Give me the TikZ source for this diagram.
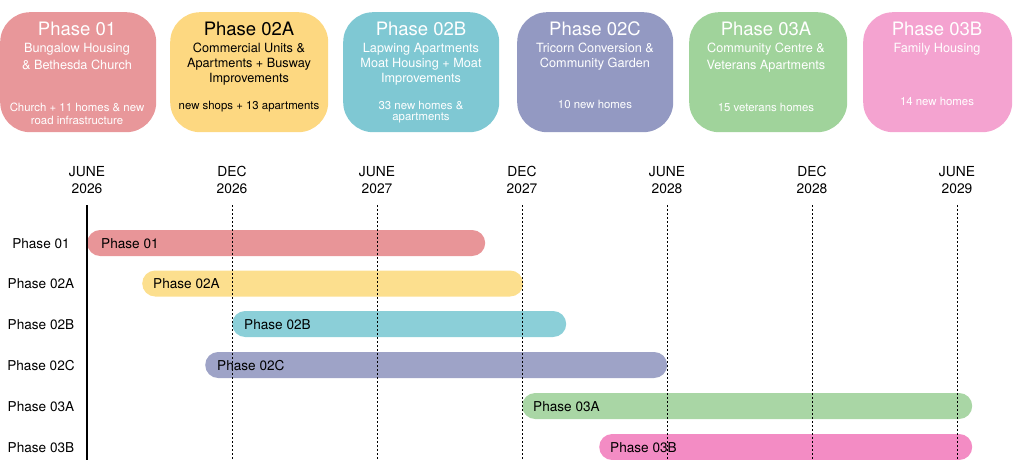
\documentclass[tikz,border=0pt]{standalone}
\usepackage{fontspec}
\setmainfont{TeX Gyre Heros}
\definecolor{cA}{HTML}{E8979A}
\definecolor{bA}{HTML}{E89598}
\definecolor{cB}{HTML}{FDD881}
\definecolor{bB}{HTML}{FCDF8E}
\definecolor{cC}{HTML}{7FC8D3}
\definecolor{bC}{HTML}{8BCFD8}
\definecolor{cD}{HTML}{9399C2}
\definecolor{bD}{HTML}{9EA3C7}
\definecolor{cE}{HTML}{A0D39B}
\definecolor{bE}{HTML}{A9D6A5}
\definecolor{cF}{HTML}{F4A3D0}
\definecolor{bF}{HTML}{F38CC4}
\tikzset{
  card/.style={rounded corners=30pt, minimum width=156pt, minimum height=120pt, inner sep=0pt, anchor=north west},
  ctitle/.style={anchor=base, inner sep=0pt, font=\fontsize{18.5}{20}\selectfont},
  csub/.style={anchor=base, inner sep=0pt, font=\fontsize{12.7}{14}\selectfont},
  cnote/.style={anchor=base, inner sep=0pt, font=\fontsize{11.4}{13}\selectfont},
  axislab/.style={anchor=base, inner sep=0pt, font=\fontsize{13.8}{15}\selectfont},
  rowlab/.style={anchor=base, inner sep=0pt, font=\fontsize{13.6}{15}\selectfont},
  bar/.style={rounded corners=13pt, minimum height=26pt, inner sep=0pt, anchor=west},
  barlab/.style={anchor=base west, inner sep=0pt, font=\fontsize{13.6}{15}\selectfont},
  gridline/.style={dash pattern=on 2pt off 2pt, line width=0.8pt},
}
\begin{document}
\begin{tikzpicture}[x=1pt,y=-1pt]
\useasboundingbox (0,0) rectangle (1014,460);
% cards
\node[card, fill=cA] (k1) at (0,12) {};
\node[card, fill=cB, minimum width=158pt] (k2) at (170,12) {};
\node[card, fill=cC] (k3) at (343,12) {};
\node[card, fill=cD] (k4) at (517,12) {};
\node[card, fill=cE, minimum width=158pt] (k5) at (689,12) {};
\node[card, fill=cF, minimum width=149pt] (k6) at (863,12) {};
% card 1
\begin{scope}[text=white]
\node[ctitle] (t1) at (77,36) {Phase 01};
\node[csub] (s1a) at (77,52.5) {Bungalow Housing};
\node[csub] (s1b) at (77,70) {\& Bethesda Church};
\node[cnote] (n1a) at (77,111) {Church + 11 homes \& new};
\node[cnote] (n1b) at (77,124.5) {road infrastructure};
\end{scope}
% card 2
\begin{scope}[text=black]
\node[ctitle] (t2) at (249,36) {Phase 02A};
\node[csub] (s2a) at (249,52.5) {Commercial Units \&};
\node[csub] (s2b) at (249,67) {Apartments + Busway};
\node[csub] (s2c) at (249,82) {Improvements};
\node[cnote] (n2a) at (249,109) {new shops + 13 apartments};
\end{scope}
% cards 3-6
\begin{scope}[text=white]
\node[ctitle] (t3) at (421,36) {Phase 02B};
\node[csub] (s3a) at (421,52.5) {Lapwing Apartments};
\node[csub] (s3b) at (421,67) {Moat Housing + Moat};
\node[csub] (s3c) at (421,82) {Improvements};
\node[cnote] (n3a) at (421,109) {33 new homes \&};
\node[cnote] (n3b) at (421,120.5) {apartments};
\node[ctitle] (t4) at (595,36) {Phase 02C};
\node[csub] (s4a) at (595,52.5) {Tricorn Conversion \&};
\node[csub] (s4b) at (595,67) {Community Garden};
\node[cnote] (n4a) at (595,108) {10 new homes};
\node[ctitle] (t5) at (766,36) {Phase 03A};
\node[csub] (s5a) at (766,52.5) {Community Centre \&};
\node[csub] (s5b) at (766,70) {Veterans Apartments};
\node[cnote] (n5a) at (766,111) {15 veterans homes};
\node[ctitle] (t6) at (937,36) {Phase 03B};
\node[csub] (s6a) at (937,52.5) {Family Housing};
\node[cnote] (n6a) at (937,105) {14 new homes};
\end{scope}
% axis labels
\foreach \x/\m/\y [count=\i] in {87/JUNE/2026,232/DEC/2026,377/JUNE/2027,522/DEC/2027,667/JUNE/2028,812/DEC/2028,957/JUNE/2029}{
  \node[axislab] (am\i) at (\x,176) {\m};
  \node[axislab] (ay\i) at (\x,193) {\y};
}
% row labels
\node[rowlab] (r1) at (41,248) {Phase 01};
\node[rowlab] (r2) at (41,288.5) {Phase 02A};
\node[rowlab] (r3) at (41,329) {Phase 02B};
\node[rowlab] (r4) at (41,370) {Phase 02C};
\node[rowlab] (r5) at (41,411) {Phase 03A};
\node[rowlab] (r6) at (41,452) {Phase 03B};
% bars
\node[bar, fill=bA, minimum width=398pt] (b1) at (87,243) {};
\node[bar, fill=bB, minimum width=381pt] (b2) at (142,283.5) {};
\node[bar, fill=bC, minimum width=334pt] (b3) at (232,324) {};
\node[bar, fill=bD, minimum width=462pt] (b4) at (205,365) {};
\node[bar, fill=bE, minimum width=450pt] (b5) at (522,406) {};
\node[bar, fill=bF, minimum width=373pt] (b6) at (599,447) {};
\node[barlab] (l1) at (101,248) {Phase 01};
\node[barlab] (l2) at (153,288.5) {Phase 02A};
\node[barlab] (l3) at (244,329) {Phase 02B};
\node[barlab] (l4) at (217,370) {Phase 02C};
\node[barlab] (l5) at (533,411) {Phase 03A};
\node[barlab] (l6) at (610,452) {Phase 03B};
% grid lines
\coordinate (g0t) at (87,205);
\coordinate (g0b) at (87,460);
\draw[line width=1.3pt] (g0t) -- (g0b);
\foreach \x [count=\i] in {232,377,522,667,812,957}{
  \coordinate (gt\i) at (\x,205);
  \coordinate (gb\i) at (\x,460);
  \draw[gridline] (gt\i) -- (gb\i);
}
\end{tikzpicture}
\end{document}
